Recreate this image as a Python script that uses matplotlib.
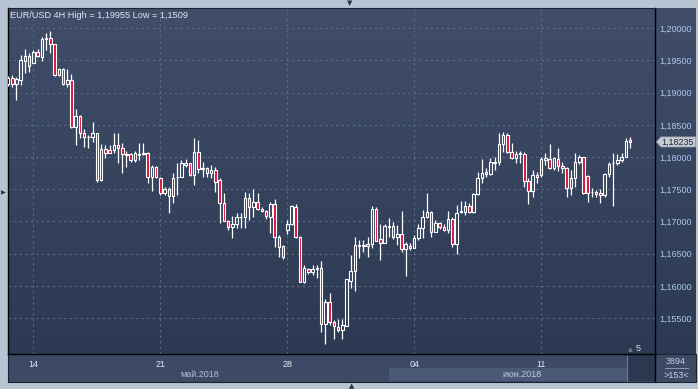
import matplotlib.pyplot as plt
import numpy as np
from matplotlib.patches import Rectangle, Polygon
from matplotlib.colors import LinearSegmentedColormap
from matplotlib.ticker import FuncFormatter

plt.rcParams['font.family'] = ['Liberation Sans', 'DejaVu Sans']

# EUR/USD 4H candles, 11 May - 14 Jun 2018
opens = [
    1.19134, 1.19228, 1.19130, 1.19197, 1.19496, 1.19569, 1.19465, 1.19636, 1.19558, 1.19829,
    1.19844, 1.19751, 1.19274, 1.19367, 1.19130, 1.19197, 1.18462, 1.18638, 1.18369, 1.18307,
    1.18316, 1.18369, 1.17644, 1.18120, 1.18109, 1.18109, 1.18187, 1.18136, 1.18040, 1.18043,
    1.17954, 1.18032, 1.18043, 1.18058, 1.17690, 1.17841, 1.17670, 1.17446, 1.17395, 1.17395,
    1.17686, 1.17695, 1.17881, 1.17903, 1.17721, 1.18074, 1.17810, 1.17825, 1.17757, 1.17799,
    1.17644, 1.17282, 1.17012, 1.16909, 1.16956, 1.17064, 1.17064, 1.17369, 1.17229, 1.17307,
    1.17189, 1.17162, 1.17074, 1.17271, 1.16754, 1.16619, 1.16867, 1.16956, 1.17220, 1.16754,
    1.16064, 1.16261, 1.16220, 1.16257, 1.16272, 1.15403, 1.15744, 1.15434, 1.15356, 1.15314,
    1.15381, 1.16080, 1.16235, 1.16623, 1.16614, 1.16614, 1.16650, 1.17193, 1.16723, 1.16670,
    1.16918, 1.16934, 1.16763, 1.16800, 1.16567, 1.16623, 1.16592, 1.16738, 1.16893, 1.17074,
    1.17142, 1.16841, 1.16971, 1.16918, 1.16867, 1.17038, 1.16650, 1.17142, 1.17142, 1.17240,
    1.17142, 1.17422, 1.17670, 1.17737, 1.17737, 1.17912, 1.17928, 1.18203, 1.18343, 1.18083,
    1.17981, 1.18047, 1.18047, 1.17633, 1.17477, 1.17686, 1.17721, 1.17954, 1.17965, 1.17825,
    1.17965, 1.17866, 1.17825, 1.17515, 1.17670, 1.17919, 1.17996, 1.17710, 1.17453, 1.17462,
    1.17437, 1.17411, 1.17732, 1.17903, 1.17912, 1.17954, 1.18006, 1.18265,
]
highs = [
    1.19259, 1.19274, 1.19243, 1.19585, 1.19678, 1.19616, 1.19662, 1.19678, 1.19864, 1.19931,
    1.19955, 1.19756, 1.19383, 1.19383, 1.19363, 1.19290, 1.18746, 1.18653, 1.18436, 1.18342,
    1.18540, 1.18374, 1.18203, 1.18187, 1.18187, 1.18369, 1.18369, 1.18214, 1.18094, 1.18063,
    1.18094, 1.18218, 1.18214, 1.18083, 1.17877, 1.17861, 1.17695, 1.17540, 1.17530, 1.17748,
    1.17903, 1.17954, 1.17965, 1.17912, 1.18291, 1.18265, 1.17918, 1.17850, 1.17877, 1.17850,
    1.17675, 1.17437, 1.17022, 1.17085, 1.17126, 1.17126, 1.17462, 1.17446, 1.17499, 1.17437,
    1.17229, 1.17178, 1.17307, 1.17349, 1.16789, 1.16634, 1.17022, 1.17255, 1.17266, 1.16774,
    1.16324, 1.16282, 1.16324, 1.16324, 1.16386, 1.15796, 1.15893, 1.15465, 1.15480, 1.15480,
    1.16114, 1.16479, 1.16763, 1.16712, 1.16712, 1.16763, 1.17245, 1.17229, 1.16956, 1.16956,
    1.17049, 1.16987, 1.16945, 1.17162, 1.16685, 1.16661, 1.16789, 1.16960, 1.17178, 1.17446,
    1.17167, 1.17022, 1.16996, 1.16956, 1.17162, 1.17074, 1.17255, 1.17317, 1.17317, 1.17282,
    1.17442, 1.17772, 1.17965, 1.17825, 1.17981, 1.17996, 1.18369, 1.18394, 1.18369, 1.18223,
    1.18094, 1.18094, 1.18083, 1.17675, 1.17799, 1.17763, 1.17996, 1.18059, 1.18203, 1.17996,
    1.18137, 1.17928, 1.17850, 1.17799, 1.18059, 1.18032, 1.18005, 1.17721, 1.17524, 1.17488,
    1.17499, 1.17748, 1.17919, 1.18059, 1.18043, 1.18059, 1.18291, 1.18307,
]
lows = [
    1.19103, 1.19088, 1.18886, 1.19119, 1.19310, 1.19325, 1.19460, 1.19554, 1.19496, 1.19662,
    1.19616, 1.19266, 1.19259, 1.19119, 1.19093, 1.18451, 1.18187, 1.18296, 1.18161, 1.18145,
    1.18238, 1.17617, 1.17633, 1.17981, 1.18058, 1.18058, 1.17912, 1.17757, 1.17850, 1.17918,
    1.17928, 1.17954, 1.18032, 1.17602, 1.17473, 1.17675, 1.17411, 1.17411, 1.17136, 1.17282,
    1.17411, 1.17690, 1.17850, 1.17710, 1.17566, 1.17748, 1.17695, 1.17695, 1.17670, 1.17462,
    1.16971, 1.17007, 1.16867, 1.16738, 1.16893, 1.16893, 1.16893, 1.17022, 1.17074, 1.17178,
    1.17151, 1.17033, 1.16821, 1.16608, 1.16452, 1.16417, 1.16800, 1.16945, 1.16743, 1.16055,
    1.16039, 1.16179, 1.16168, 1.16117, 1.15288, 1.15090, 1.15392, 1.15174, 1.15288, 1.15174,
    1.15376, 1.15962, 1.15920, 1.16437, 1.16530, 1.16452, 1.16583, 1.16696, 1.16401, 1.16665,
    1.16763, 1.16727, 1.16634, 1.16530, 1.16153, 1.16556, 1.16588, 1.16712, 1.16738, 1.17058,
    1.16754, 1.16836, 1.16878, 1.16852, 1.16816, 1.16608, 1.16494, 1.17136, 1.17100, 1.17126,
    1.17131, 1.17411, 1.17592, 1.17686, 1.17721, 1.17799, 1.17877, 1.18083, 1.18058, 1.17965,
    1.17903, 1.17912, 1.17540, 1.17271, 1.17384, 1.17602, 1.17695, 1.17877, 1.17819, 1.17799,
    1.17788, 1.17748, 1.17384, 1.17411, 1.17540, 1.17887, 1.17426, 1.17307, 1.17384, 1.17375,
    1.17291, 1.17384, 1.17695, 1.17245, 1.17877, 1.17929, 1.18001, 1.18137,
]
closes = [
    1.19228, 1.19130, 1.19207, 1.19507, 1.19569, 1.19414, 1.19631, 1.19569, 1.19829, 1.19844,
    1.19751, 1.19274, 1.19367, 1.19130, 1.19197, 1.18462, 1.18638, 1.18369, 1.18307, 1.18316,
    1.18369, 1.17644, 1.18120, 1.18068, 1.18068, 1.18187, 1.18136, 1.18043, 1.18047, 1.17954,
    1.18068, 1.18047, 1.18058, 1.17690, 1.17841, 1.17695, 1.17446, 1.17499, 1.17499, 1.17679,
    1.17695, 1.17903, 1.17903, 1.17721, 1.18074, 1.17810, 1.17825, 1.17757, 1.17799, 1.17617,
    1.17282, 1.17012, 1.16909, 1.16956, 1.17064, 1.17074, 1.17369, 1.17229, 1.17307, 1.17189,
    1.17162, 1.17085, 1.17271, 1.16754, 1.16598, 1.16452, 1.16956, 1.17240, 1.16754, 1.16064,
    1.16272, 1.16220, 1.16261, 1.16272, 1.15403, 1.15744, 1.15443, 1.15381, 1.15314, 1.15392,
    1.16106, 1.16235, 1.16634, 1.16634, 1.16634, 1.16650, 1.17193, 1.16701, 1.16670, 1.16934,
    1.16934, 1.16763, 1.16800, 1.16567, 1.16650, 1.16583, 1.16748, 1.16893, 1.17074, 1.17142,
    1.16841, 1.16971, 1.16918, 1.16867, 1.17038, 1.16650, 1.17126, 1.17162, 1.17240, 1.17142,
    1.17422, 1.17670, 1.17748, 1.17763, 1.17919, 1.17928, 1.18203, 1.18343, 1.18074, 1.17990,
    1.18047, 1.18058, 1.17633, 1.17477, 1.17721, 1.17721, 1.17965, 1.17981, 1.17825, 1.17981,
    1.17866, 1.17825, 1.17515, 1.17670, 1.17919, 1.17996, 1.17437, 1.17437, 1.17462, 1.17426,
    1.17411, 1.17732, 1.17892, 1.17912, 1.17954, 1.18006, 1.18254, 1.18235,
]
week_starts = [6, 36, 66, 96, 126]
week_labels = ['14', '21', '28', '04', '11']
price_ticks = [1.155, 1.160, 1.165, 1.170, 1.175, 1.180, 1.185, 1.190, 1.195, 1.200]
title = 'EUR/USD 4H High = 1,19955 Low = 1,1509'

W, H = 698, 389
fig = plt.figure(figsize=(W / 100, H / 100), dpi=100)
fig.patch.set_facecolor('#b8c3d3')

def fx(px):
    return px / W

def fy(py):
    return 1 - py / H

grad = LinearSegmentedColormap.from_list('bg', ['#2b3953', '#404e69'])
gimg = np.linspace(0, 1, 256).reshape(-1, 1)

# bottom date strip and its pieces
fig.add_artist(Rectangle((fx(8), fy(382)), fx(696) - fx(8), fy(354) - fy(382),
                         transform=fig.transFigure, facecolor='#3c4a65', edgecolor='#1c2433',
                         lw=0.8, zorder=0.2))
fig.add_artist(Rectangle((fx(389), fy(381)), fx(627) - fx(389), fy(368) - fy(381),
                         transform=fig.transFigure, facecolor='#4a5a76', edgecolor='none', zorder=0.3))
fig.add_artist(Rectangle((fx(628), fy(381)), fx(655) - fx(628), fy(354) - fy(381),
                         transform=fig.transFigure, facecolor='#2c3850', edgecolor='none', zorder=0.3))
fig.add_artist(plt.Line2D([fx(627), fx(627)], [fy(356), fy(381)], transform=fig.transFigure,
                          color='#6d7a90', lw=0.8, zorder=0.4))
fig.add_artist(plt.Line2D([fx(655), fx(655)], [fy(354), fy(381)], transform=fig.transFigure,
                          color='#000000', lw=1.0, zorder=0.4))

# right price panel
rax = fig.add_axes([fx(655), fy(354), fx(696) - fx(655), fy(8) - fy(354)], zorder=0.5)
rax.imshow(gimg, cmap=grad, aspect='auto', extent=[0, 1, 0, 1], origin='lower')
rax.set_xlim(0, 1)
rax.set_ylim(0, 1)
rax.set_axis_off()

# main chart
ax = fig.add_axes([fx(8), fy(354), fx(655) - fx(8), fy(8) - fy(354)], zorder=2)
ax.set_autoscale_on(False)
ax.imshow(gimg, cmap=grad, aspect='auto', extent=[0, 1, 0, 1], origin='lower',
          transform=ax.transAxes, zorder=0)
ax.set_xlim(0, 152.9)
ax.set_ylim(1.14942, 1.20315)

ax.set_yticks(price_ticks)
ax.yaxis.set_major_formatter(FuncFormatter(lambda v, p: f'{v:.5f}'.replace('.', ',')))
ax.yaxis.tick_right()
ax.tick_params(axis='y', length=0, pad=3, labelsize=6.5, labelcolor='#a9c8ec')
ax.set_xticks(week_starts)
ax.set_xticklabels(week_labels)
ax.tick_params(axis='x', length=0, pad=4.5, labelsize=6.5, labelcolor='#e4e9f0')
ax.grid(True, color='#5b6b87', lw=0.8, linestyle=(0, (2, 3)), zorder=1)
for side in ['left', 'right', 'bottom']:
    ax.spines[side].set_color('#000000')
    ax.spines[side].set_linewidth(1.0)
ax.spines['top'].set_color('#1c2433')
ax.spines['top'].set_linewidth(0.8)

idx = np.arange(len(opens))
o = np.array(opens)
h = np.array(highs)
l = np.array(lows)
c = np.array(closes)
top = np.maximum(o, c)
bot = np.minimum(o, c)
down = c < o

ax.vlines(idx, top, h, color='white', lw=0.9, zorder=3)
ax.vlines(idx, l, bot, color='white', lw=0.9, zorder=3)
body = np.maximum(top - bot, 0.00004)
ax.bar(idx[down], body[down], bottom=bot[down], width=0.6, color='#d8103a',
       edgecolor='white', linewidth=0.8, zorder=4)
ax.bar(idx[~down], body[~down], bottom=bot[~down], width=0.6, color='none',
       edgecolor='white', linewidth=0.8, zorder=4)

# last price marker on the price scale
last = closes[-1]
yc = fig.transFigure.inverted().transform(ax.transData.transform((0, last)))[1]
hh = 5 / H
fig.add_artist(Polygon([[fx(656.5), yc], [fx(661), yc + hh], [fx(695.5), yc + hh],
                        [fx(695.5), yc - hh], [fx(661), yc - hh]], closed=True,
                       transform=fig.transFigure, facecolor='#c9cdd3', edgecolor='#9aa2ae',
                       lw=0.6, zorder=5))
fig.text(fx(677.5), yc, f'{last:.5f}'.replace('.', ','), ha='center', va='center',
         fontsize=6.5, color='#1d2535', zorder=6)

# texts
fig.text(fx(10), fy(15), title, ha='left', va='center', fontsize=6.6, color='#e2e7ef', zorder=6)
fig.text(fx(200), fy(374.5), 'май.2018', ha='center', va='center', fontsize=6.5,
         color='#b4c1d6', zorder=6)
fig.text(fx(522), fy(374.5), 'июн.2018', ha='center', va='center', fontsize=6.5,
         color='#c0cbdc', zorder=6)
fig.text(fx(676), fy(362), '3894', ha='center', va='center', fontsize=6.5, color='#c4d0e2', zorder=6)
fig.add_artist(plt.Line2D([fx(665), fx(688)], [fy(367.5), fy(367.5)], transform=fig.transFigure,
                          color='#8c99ae', lw=0.7, zorder=6))
fig.text(fx(676), fy(375), '>153<', ha='center', va='center', fontsize=6.5, color='#c4d0e2', zorder=6)
fig.text(fx(638), fy(348.5), '5', ha='center', va='center', fontsize=6.5, color='#d6deea', zorder=6)
fig.text(fx(630), fy(349.5), '▲', ha='center', va='center', fontsize=4.5, color='#6f7c92',
         family='DejaVu Sans', zorder=6)

# frame arrows
fig.text(fx(350), fy(3), '▼', ha='center', va='center', fontsize=5, color='#2a3345', family='DejaVu Sans')
fig.text(fx(352), fy(386), '▲', ha='center', va='center', fontsize=5, color='#2a3345', family='DejaVu Sans')
fig.text(fx(3), fy(193), '▶', ha='center', va='center', fontsize=4.5, color='#2a3345', family='DejaVu Sans')

fig.savefig('out.png', dpi=100, facecolor=fig.get_facecolor())
